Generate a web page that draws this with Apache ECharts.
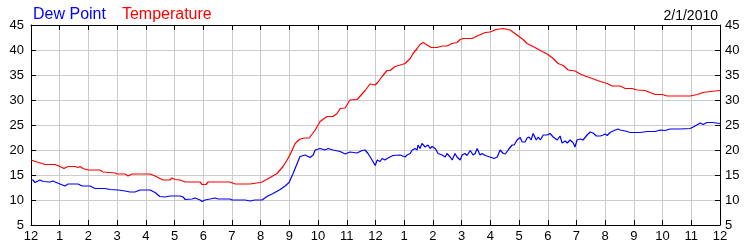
<!DOCTYPE html>
<html>
<head>
<meta charset="utf-8">
<script src="https://cdn.jsdelivr.net/npm/echarts@6/dist/echarts.min.js"></script>
<style>html,body{margin:0;padding:0;background:#fff}#c{width:750px;height:250px}</style>
</head>
<body>
<div id="c"></div>
<script>
var tempHours = [0,0.21,0.49,0.84,1.01,1.15,1.29,1.53,1.64,1.71,1.81,1.99,2.40,2.51,2.93,3.00,3.28,3.38,3.52,4.15,4.32,4.49,4.60,4.84,4.91,5.02,5.19,5.37,5.89,5.96,6.10,6.17,6.93,7.11,7.63,7.98,8.05,8.33,8.57,8.78,8.92,9.02,9.20,9.37,9.55,9.69,9.90,10.07,10.31,10.52,10.66,10.77,10.94,11.11,11.36,11.50,11.64,11.81,11.99,12.09,12.23,12.40,12.51,12.68,12.86,13.03,13.21,13.31,13.45,13.55,13.66,13.80,13.94,14.15,14.32,14.49,14.67,14.84,14.95,15.05,15.37,15.54,15.82,15.99,16.20,16.45,16.69,16.93,17.14,17.28,17.49,17.74,17.98,18.19,18.36,18.54,18.71,18.95,19.13,19.30,19.55,19.83,20.07,20.24,20.52,20.70,20.94,21.11,21.39,21.57,21.74,21.99,22.16,22.96,23.21,23.41,23.66,24.0];
var tempValues = [18.0,17.6,17.1,17.1,16.7,16.3,16.7,16.7,16.5,16.7,16.3,16.0,16.0,15.6,15.4,15.2,15.2,14.8,15.2,15.2,14.8,14.3,14.0,14.0,14.4,14.1,14.0,13.6,13.6,13.1,13.1,13.6,13.6,13.2,13.2,13.5,13.6,14.5,15.3,16.7,18.0,19.0,21.3,22.2,22.4,22.4,24.0,25.7,26.7,26.7,27.3,28.3,28.4,30.0,30.1,31.0,31.9,33.2,33.0,33.6,34.7,35.9,35.9,36.7,37.0,37.3,38.3,39.3,40.3,41.1,41.5,41.0,40.5,40.5,40.8,40.8,41.3,41.5,42.1,42.3,42.3,42.8,43.5,43.6,44.1,44.3,44.0,43.0,42.1,41.3,40.7,39.9,39.2,38.3,37.3,36.9,36.0,35.8,35.2,34.8,34.3,33.7,33.3,32.8,32.8,32.3,32.3,32.0,31.9,31.5,31.1,31.1,30.8,30.8,31.1,31.5,31.7,31.9];
var dewHours = [0,0.07,0.14,0.31,0.42,0.66,0.77,0.84,1.01,1.18,1.29,1.64,1.78,2.06,2.23,2.58,2.75,3.03,3.28,3.45,3.62,3.80,4.15,4.32,4.49,4.67,4.84,5.19,5.30,5.37,5.61,5.71,5.89,5.96,6.06,6.24,6.41,6.52,6.93,7.00,7.46,7.63,7.80,8.05,8.22,8.43,8.68,8.85,8.99,9.13,9.27,9.37,9.55,9.72,9.83,9.90,10.07,10.24,10.35,10.52,10.77,10.94,11.11,11.36,11.53,11.64,11.74,11.88,11.99,12.06,12.16,12.23,12.33,12.40,12.61,12.86,13.03,13.10,13.21,13.28,13.38,13.45,13.48,13.55,13.62,13.73,13.83,13.90,13.97,14.08,14.18,14.32,14.43,14.49,14.60,14.67,14.77,14.84,14.95,15.02,15.12,15.19,15.30,15.40,15.47,15.54,15.64,15.71,15.82,15.99,16.13,16.24,16.34,16.45,16.52,16.62,16.76,16.83,16.93,17.04,17.11,17.21,17.28,17.35,17.42,17.49,17.60,17.67,17.74,17.84,17.98,18.08,18.19,18.33,18.43,18.50,18.61,18.68,18.78,18.89,18.95,19.02,19.13,19.23,19.37,19.48,19.58,19.69,19.83,19.93,20.00,20.07,20.17,20.35,20.45,20.52,20.70,20.87,21.22,21.46,21.74,21.92,22.09,22.26,22.61,22.96,23.07,23.31,23.41,23.55,23.73,24.0];
var dewValues = [14.0,14.0,13.5,14.0,13.7,13.6,13.8,13.6,13.2,12.8,13.2,13.2,12.8,12.8,12.3,12.3,12.1,12.0,11.8,11.6,11.6,12.0,12.0,11.5,10.7,10.6,10.8,10.8,10.6,10.1,10.2,10.4,10.0,9.7,10.0,10.2,10.4,10.2,10.2,10.0,10.0,9.8,10.0,10.0,10.7,11.3,12.1,12.8,13.5,15.3,17.3,18.7,19.0,18.5,19.0,20.0,20.3,20.0,20.3,20.0,19.7,19.2,19.6,19.4,19.9,20.0,19.3,18.0,16.9,18.0,17.7,18.3,18.0,18.3,18.9,19.0,18.6,19.0,19.3,20.0,20.3,20.0,21.0,20.3,21.3,20.6,21.0,20.3,20.7,20.3,19.3,19.0,18.6,19.3,18.6,18.0,19.3,18.6,18.0,19.0,19.3,18.9,19.9,19.0,19.3,20.3,19.0,19.3,18.9,18.6,18.3,18.6,20.0,19.3,19.2,20.0,21.0,21.0,22.0,22.5,21.6,21.6,22.4,22.6,22.0,23.3,22.0,22.6,22.0,23.0,23.0,23.3,22.6,22.0,22.8,21.4,21.8,21.4,22.0,21.4,20.6,22.0,22.2,22.0,23.0,23.6,23.4,22.8,22.8,23.0,23.2,22.9,23.5,24.0,24.2,24.0,23.8,23.5,23.5,23.7,23.7,24.0,23.9,24.2,24.2,24.3,24.6,25.4,25.1,25.5,25.5,25.3];
var hourLabels = ['12','1','2','3','4','5','6','7','8','9','10','11','12','1','2','3','4','5','6','7','8','9','10','11','12'];
var dateText = '2/1/2010';

function pairs(xs, ys){ return xs.map(function(x,i){ return [x, ys[i]]; }); }

var FONT = '"Liberation Sans", Arial, sans-serif';
var chart = echarts.init(document.getElementById('c'), null, {renderer:'canvas'});
var axisLine = {show:true, onZero:false, lineStyle:{color:'#000', width:1}};
var tick = {show:true, inside:true, length:5, lineStyle:{color:'#000'}};
chart.setOption({
  animation:false,
  backgroundColor:'#fff',
  title:{text:dateText, right:27, top:4, textStyle:{fontFamily:FONT, fontSize:14, fontWeight:'normal', color:'#000'}},
  legend:{left:23, top:2, icon:'none', itemWidth:0, itemGap:11, selectedMode:false,
    textStyle:{fontFamily:FONT, fontSize:16},
    data:[{name:'Dew Point', textStyle:{color:'#0000ff'}},{name:'Temperature', textStyle:{color:'#ff0000'}}]},
  grid:{left:31, right:30, top:25, bottom:25},
  xAxis:[
    {type:'value', min:0, max:24, interval:1, position:'bottom', axisLine:axisLine, axisTick:tick,
     splitLine:{show:true, lineStyle:{color:'#cccccc', width:1}},
     axisLabel:{margin:5, fontFamily:FONT, fontSize:13, color:'#000', formatter:function(v){return hourLabels[Math.round(v)];}}},
    {type:'value', min:0, max:24, interval:1, position:'top', axisLine:axisLine, axisTick:tick,
     splitLine:{show:false}, axisLabel:{show:false}}
  ],
  yAxis:[
    {type:'value', min:5, max:45, interval:5, position:'left', axisLine:axisLine, axisTick:tick,
     splitLine:{show:true, lineStyle:{color:'#cccccc', width:1}},
     axisLabel:{margin:7, fontFamily:FONT, fontSize:13, color:'#000'}},
    {type:'value', min:5, max:45, interval:5, position:'right', axisLine:axisLine, axisTick:tick,
     splitLine:{show:false},
     axisLabel:{margin:5, fontFamily:FONT, fontSize:13, color:'#000'}}
  ],
  series:[
    {name:'Dew Point', type:'line', data:pairs(dewHours, dewValues), showSymbol:false, symbol:'none',
     lineStyle:{color:'#0000ff', width:1.2}, itemStyle:{color:'#0000ff'}, z:3},
    {name:'Temperature', type:'line', data:pairs(tempHours, tempValues), showSymbol:false, symbol:'none',
     lineStyle:{color:'#ff0000', width:1.2}, itemStyle:{color:'#ff0000'}, z:3}
  ]
});
</script>
</body>
</html>
